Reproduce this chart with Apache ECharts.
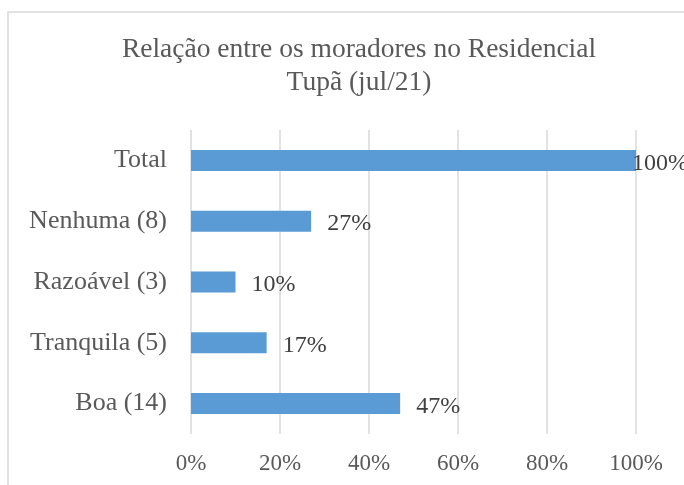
<html>
<head>
<meta charset="utf8">
<script src="https://cdn.jsdelivr.net/npm/echarts@6/dist/echarts.min.js"></script>
<style>body{margin:0;background:#fff}</style>
</head>
<body>
<div id="main" style="width:684px;height:485px;"></div>
<script>
var categories = ['Boa (14)', 'Tranquila (5)', 'Razoável (3)', 'Nenhuma (8)', 'Total'];
var percents = [47, 17, 10, 27, 100];
var xTicks = [0, 20, 40, 60, 80, 100];

var font = '"Liberation Serif", "Times New Roman", serif';
var chart = echarts.init(document.getElementById('main'));

// the 100% label sits over the end of its bar, as in the original
var barData = percents.map(function (v) {
	return v >= 100 ? { value: v, label: { distance: -4 } } : v;
});

chart.setOption({
	backgroundColor: '#fff',
	title: {
		text: 'Relação entre os moradores no Residencial\nTupã (jul/21)',
		left: 354, textAlign: 'center', top: 28,
		textStyle: { fontFamily: font, fontSize: 27.5, fontWeight: 'normal', color: '#595959', lineHeight: 33 }
	},
	graphic: [{
		type: 'rect', shape: { x: 8, y: 12, width: 700, height: 500 },
		style: { fill: 'none', stroke: '#d9d9d9', lineWidth: 1.5 }, silent: true
	}],
	grid: { left: 191, right: 48, top: 130, bottom: 51 },
	xAxis: {
		type: 'value', min: 0, max: 100, interval: 20,
		axisLine: { show: false }, axisTick: { show: false },
		splitLine: { lineStyle: { color: '#d9d9d9', width: 1.5 } },
		axisLabel: {
			margin: 18, color: '#595959', fontFamily: font, fontSize: 23,
			formatter: function (v) { return xTicks.indexOf(v) >= 0 ? v + '%' : ''; }
		}
	},
	yAxis: {
		type: 'category', data: categories,
		axisLine: { show: false }, axisTick: { show: false },
		axisLabel: { margin: 24, color: '#595959', fontFamily: font, fontSize: 26, padding: [8, 0, 0, 0] }
	},
	series: [{
		type: 'bar', data: barData, barWidth: 21,
		itemStyle: { color: '#5b9bd5' },
		label: {
			show: true, position: 'right', distance: 16, offset: [0, 3],
			formatter: '{c}%', color: '#404040', fontFamily: font, fontSize: 24
		}
	}]
});
</script>
</body>
</html>
